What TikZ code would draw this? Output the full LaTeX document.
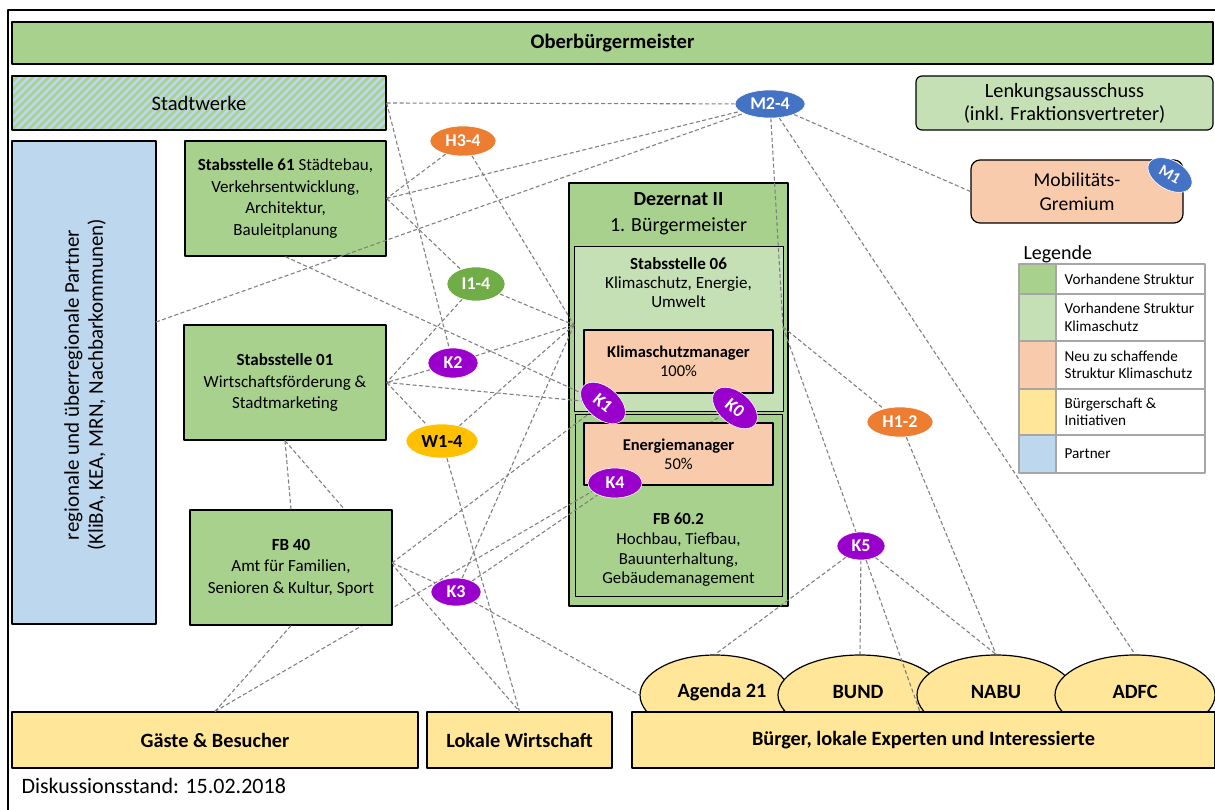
\documentclass[tikz,border=0pt]{standalone}
\usepackage{fontspec}
\setmainfont{Carlito}
\usetikzlibrary{shapes.geometric}
\definecolor{orggreen}{HTML}{A9D18E}
\definecolor{klimagreen}{HTML}{C5E0B4}
\definecolor{newpeach}{HTML}{F8CBAD}
\definecolor{civic}{HTML}{FFE699}
\definecolor{partnerblue}{HTML}{BDD7EE}
\definecolor{linkgray}{HTML}{808080}
\definecolor{tagblue}{HTML}{4472C4}
\definecolor{tagorange}{HTML}{ED7D31}
\definecolor{taggreen}{HTML}{70AD47}
\definecolor{tagpurple}{HTML}{9900CC}
\definecolor{taggold}{HTML}{FFC000}
\definecolor{leggray}{HTML}{A6A6A6}
\pgfdeclarelayer{fg}
\pgfsetlayers{main,fg}
\begin{document}
\begin{tikzpicture}[x=1pt,y=-1pt, line cap=round, line join=round,
  unit/.style={draw=black,line width=1.3pt,fill=orggreen,inner sep=0pt,align=center,font=\fontsize{17}{21.5}\selectfont},
  inner/.style={draw=black,line width=1.3pt,inner sep=0pt,align=center,font=\fontsize{16.5}{19}\selectfont},
  link/.style={draw=linkgray,line width=1.1pt,dash pattern=on 4pt off 2.5pt,line cap=butt},
  tag/.style={ellipse,draw=white,line width=.6pt,inner sep=0pt,text=white,font=\bfseries\fontsize{18}{20}\selectfont},
  citizen/.style={draw=black,line width=1.2pt,fill=civic,inner sep=0pt,font=\bfseries\fontsize{20.3}{24}\selectfont},
  group/.style={ellipse,draw=black,line width=1.2pt,fill=civic,inner sep=0pt},
  grouptxt/.style={font=\bfseries\fontsize{20.3}{24}\selectfont},
  legline/.style={draw=leggray,line width=1.4pt}]
\useasboundingbox (0,0) rectangle (1215,810);
% frame and top row
\draw[line width=1.2pt] (8,810) -- (8,10) -- (1215,10);
\node[unit,minimum width=1201pt,minimum height=42pt,font=\bfseries\fontsize{20.6}{24}\selectfont] (obm) at (612.5,43) {Oberbürgermeister};
\begin{scope}
\clip (12,76) rectangle (386,130);
\fill[partnerblue] (12,76) rectangle (386,130);
\foreach \i in {0,8,...,440} {\draw[orggreen,line width=2.6pt,line cap=butt] (\i-60,130) -- (\i-6,76);}
\end{scope}
\node[draw=black,line width=1.3pt,inner sep=0pt,minimum width=374pt,minimum height=54pt,font=\fontsize{20.6}{24}\selectfont] (stw) at (199,103) {Stadtwerke};
\node[draw=black,line width=1.2pt,fill=partnerblue,minimum width=144pt,minimum height=483pt,inner sep=0pt] (partner) at (84,382.5) {};
\node[rotate=90,align=center,font=\fontsize{21}{24}\selectfont] (partnertxt) at (85,385) {regionale und überregionale Partner\\(KliBA, KEA, MRN, Nachbarkommunen)};
\node[draw=black,line width=1.2pt,fill=klimagreen,rounded corners=6pt,minimum width=297pt,minimum height=54pt,inner sep=0pt,align=center,font=\fontsize{20.3}{23}\selectfont] (lenk) at (1064.5,103) {Lenkungsausschuss\\(inkl. Fraktionsvertreter)};
\node[draw=black,line width=1.2pt,fill=newpeach,rounded corners=9pt,minimum width=212pt,minimum height=63pt,inner sep=0pt,align=center,font=\fontsize{19.6}{24}\selectfont] (mob) at (1077,191.5) {Mobilitäts-\\Gremium};

% departments
\node[unit,minimum width=201pt,minimum height=115pt] (st61) at (285.5,198.5) {\textbf{Stabsstelle 61} Städtebau,\\Verkehrsentwicklung,\\Architektur,\\Bauleitplanung};
\node[unit,minimum width=202pt,minimum height=115pt] (st01) at (285,382.5) {\textbf{Stabsstelle 01}\\Wirtschaftsförderung \&\\Stadtmarketing};
\node[unit,minimum width=219pt,minimum height=423pt] (dez) at (678.5,394.5) {};
\node[align=center,font=\fontsize{20}{26}\selectfont] (deztxt) at (678.5,214) {\textbf{Dezernat II}\\1. Bürgermeister};
\node[inner,fill=klimagreen,line width=1pt,minimum width=209pt,minimum height=164pt] (s06) at (678.5,329) {};
\node[anchor=north,align=center,font=\fontsize{17}{19}\selectfont] (s06txt) at (678.5,254) {\textbf{Stabsstelle 06}\\Klimaschutz, Energie,\\Umwelt};
\node[inner,fill=orggreen,line width=1pt,minimum width=207pt,minimum height=182pt] (fb602) at (678.5,505) {};
\node[align=center,font=\fontsize{16.8}{19.7}\selectfont] (fb602txt) at (678.5,550) {\textbf{FB 60.2}\\Hochbau, Tiefbau,\\Bauunterhaltung,\\Gebäudemanagement};
\coordinate (s06w) at (574,325);
\coordinate (s06e) at (783,327);
\coordinate (pe) at (156,322);
\coordinate (fb40e) at (392,563);
\coordinate (bk5) at (920,712);

% citizens
\node[group,minimum width=150pt,minimum height=80pt] (ag) at (715,695) {};
\node[group,minimum width=164pt,minimum height=80pt] (bund) at (860,695) {};
\node[group,minimum width=158pt,minimum height=80pt] (nabu) at (996,695) {};
\node[group,minimum width=160pt,minimum height=80pt] (adfc) at (1135,695) {};
\node[grouptxt] (agtxt) at (722,692) {Agenda 21};
\node[grouptxt] (bundtxt) at (858,692) {BUND};
\node[grouptxt] (nabutxt) at (996,692) {NABU};
\node[grouptxt] (adfctxt) at (1135,692) {ADFC};
\node[citizen,minimum width=406pt,minimum height=56pt] (gaeste) at (215,740) {Gäste \& Besucher};
\node[citizen,minimum width=185pt,minimum height=56pt] (lw) at (519.5,740) {Lokale Wirtschaft};
\node[citizen,minimum width=583pt,minimum height=56pt] (buerger) at (923.5,740) {Bürger, lokale Experten und Interessierte};
\node[anchor=west,font=\fontsize{22}{24}\selectfont] (stand) at (18,786) {Diskussionsstand: 15.02.2018};

% measure tags
\begin{pgfonlayer}{fg}
\node[tag,fill=tagblue,minimum width=70pt,minimum height=28pt] (m24) at (770,104) {M2-4};
\node[tag,fill=tagorange,minimum width=66pt,minimum height=30pt] (h34) at (463,141) {H3-4};
\node[tag,fill=taggreen,minimum width=58pt,minimum height=34pt] (i14) at (476,284) {I1-4};
\node[tag,fill=tagpurple,minimum width=50pt,minimum height=30pt] (k2) at (453,363) {K2};
\node[tag,fill=taggold,text=black,minimum width=72pt,minimum height=34pt,font=\bfseries\fontsize{18.5}{20}\selectfont] (w14) at (442,441) {W1-4};
\node[tag,fill=tagpurple,minimum width=50pt,minimum height=28pt] (k3) at (456,592) {K3};
\node[tag,fill=tagorange,minimum width=66pt,minimum height=30pt] (h12) at (900,422) {H1-2};
\node[tag,fill=tagpurple,minimum width=48pt,minimum height=28pt] (k5) at (861,546) {K5};
\node[tag,fill=tagpurple,rotate=-40,minimum width=52pt,minimum height=32pt] (k1) at (603,403) {K1};
\node[tag,fill=tagpurple,rotate=-40,minimum width=52pt,minimum height=32pt] (k0) at (735,408) {K0};
\node[tag,fill=tagpurple,minimum width=54pt,minimum height=30pt] (k4) at (615,483) {K4};
\node[tag,fill=tagblue,rotate=-30,minimum width=48pt,minimum height=29pt,font=\bfseries\fontsize{16}{18}\selectfont] (m1) at (1170,175) {M1};
\end{pgfonlayer}

% links hidden behind boxes
\draw[link] (st01.south) -- (lw.north);
\draw[link] (gaeste.north) -- (k0);
\node[unit,minimum width=202pt,minimum height=115pt] (fb40) at (291,567.5) {\textbf{FB 40}\\Amt für Familien,\\Senioren \& Kultur, Sport};
\node[inner,fill=newpeach,minimum width=189pt,minimum height=63pt] (ksm) at (678.5,361.5) {\textbf{Klimaschutzmanager}\\100\%};
\node[inner,fill=newpeach,minimum width=189pt,minimum height=62pt] (em) at (678.5,454) {\textbf{Energiemanager}\\50\%};

% links
\draw[link] (stw.east) -- (m24);
\draw[link] (stw.east) -- (k2);
\draw[link] (h34) -- (st61.east);
\draw[link] (h34) -- (s06w);
\draw[link] (st61.east) -- (m24);
\draw[link] (st61.east) -- (i14);
\draw[link] (st61.south) -- (k1);
\draw[link] (pe) -- (m24);
\draw[link] (i14) -- (s06w);
\draw[link] (i14) -- (st01.east);
\draw[link] (k2) -- (st01.east);
\draw[link] (k2) -- (s06w);
\draw[link] (st01.east) -- (k1);
\draw[link] (st01.east) -- (w14);
\draw[link] (w14) -- (s06w);
\draw[link] (w14) -- (lw.north);
\draw[link] (st01.south) -- (fb40.north);
\draw[link] (gaeste.north) -- (fb40.south);
\draw[link] (fb40e) -- (k1);
\draw[link] (fb40e) -- (k3) -- (ag.west);
\draw[link] (k3) -- (s06w);
\draw[link] (k3) -- (k4);
\draw[link] (m24) -- (mob.west);
\draw[link] (m24) -- (s06e);
\draw[link] (m24) -- (adfc.north);
\draw[link] (s06e) -- (h12);
\draw[link] (h12) -- (nabu.north);
\draw[link] (s06e) -- (k5) -- (bk5);
\draw[link] (k5) -- (ag.north);
\draw[link] (k5) -- (bund.north);
\draw[link] (k5) -- (nabu.north);

% legend
\node[anchor=west,font=\fontsize{20}{22}\selectfont] (legtitle) at (1020,254) {Legende};
\foreach \c/\ya/\yb/\t [count=\n] in {orggreen/264/294/{Vorhandene Struktur},klimagreen/294/341/{Vorhandene Struktur\\Klimaschutz},newpeach/341/389/{Neu zu schaffende\\Struktur Klimaschutz},civic/389/435/{Bürgerschaft \&\\Initiativen},partnerblue/435/473/{Partner}} {
  \fill[\c] (1019,\ya) rectangle (1056,\yb);
  \draw[legline] (1019,\ya) rectangle (1205,\yb);
  \draw[legline] (1056,\ya) -- (1056,\yb);
  \node[anchor=west,align=left,font=\fontsize{15.2}{17.5}\selectfont] (leg\n) at (1061,{(\ya+\yb)/2}) {\t};
}
\end{tikzpicture}
\end{document}
